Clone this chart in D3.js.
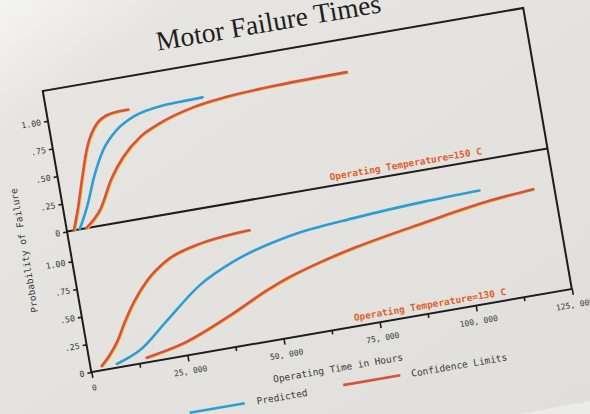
<!DOCTYPE html>
<html>
<head>
<meta charset="utf-8">
<script src="https://cdn.jsdelivr.net/npm/d3@7"></script>
<style>
  body { margin: 0; background: #e3e1dd; }
  svg { display: block; }
</style>
</head>
<body>
<svg id="chart" width="590" height="414"></svg>
<script>
// values: [operating hours, probability of failure]
var hourTicks = [0, 25000, 50000, 75000, 100000, 125000];
var hourTickLabels = ['0', '25, 000', '50, 000', '75, 000', '100, 000', '125, 000'];
var hourMinorTicks = [12500, 37500, 62500, 87500, 112500];
var probTicks = [0, .25, .5, .75, 1];
var probTickLabels = ['0', '.25', '.50', '.75', '1.00'];
var panelLabels = ['Operating Temperature=150 C', 'Operating Temperature=130 C'];
var legendLabels = ['Predicted', 'Confidence Limits'];

var predicted150 = [[3300, 0], [6200, .19], [9250, .44], [12700, .66], [17000, .816], [21800, .907], [29000, .958], [35100, .968], [40100, .972]];
var upper150 = [[1800, 0], [3900, .2], [6000, .43], [8900, .72], [12200, .9], [15100, .96], [17800, .975], [20800, .978]];
var lower150 = [[5000, 0], [9300, .14], [13600, .4], [17500, .57], [22600, .72], [28200, .81], [37400, .9], [46200, .94], [59400, .965], [77600, .975]];

var predicted130 = [[6800, .032], [13300, .119], [21300, .335], [31300, .6], [40800, .755], [56200, .895], [73800, .955], [91300, .99], [106000, 1.005]];
var upper130 = [[2900, .037], [5500, .125], [8000, .235], [10500, .38], [13600, .54], [18000, .715], [23900, .865], [33100, .962], [42000, .998], [46100, 1.005]];
var lower130 = [[14600, .042], [24500, .112], [38400, .3], [47900, .45], [54400, .535], [63000, .62], [72400, .695], [90400, .805], [108200, .9], [119600, .935]];

var W = 487.6, H = 285.2;
var red = '#d6523b', fringe = '#e9c24a', blue = '#2c9fd2', ink = '#1d1d1d', label = '#e0602c';
var mono = '"DejaVu Sans Mono", "Liberation Mono", monospace';

var svg = d3.select('#chart');

// paper
var grad = svg.append('defs').append('linearGradient')
    .attr('id', 'paper').attr('x1', 0).attr('y1', 0).attr('x2', 1).attr('y2', 1);
grad.append('stop').attr('offset', 0).attr('stop-color', '#f4f4f2');
grad.append('stop').attr('offset', .16).attr('stop-color', '#e7e5e1');
grad.append('stop').attr('offset', 1).attr('stop-color', '#e1dfdb');
svg.append('rect').attr('width', 590).attr('height', 414).attr('fill', 'url(#paper)');
svg.append('polygon').attr('points', '520,414 590,401 590,414').attr('fill', '#ebebe9');

// the print is photographed at an angle, so the whole chart is turned
var g = svg.append('g').attr('transform', 'translate(42.75,91) rotate(-9.8)');

var x = d3.scaleLinear().domain([0, 125000]).range([0, W]);
var yTop = d3.scaleLinear().domain([0, 1.27]).range([H / 2, 0]);
var yBot = d3.scaleLinear().domain([0, 1.27]).range([H, H / 2]);

// title
g.append('text')
    .attr('x', 234).attr('y', -20)
    .attr('text-anchor', 'middle')
    .attr('font-family', '"Liberation Serif", "Times New Roman", serif')
    .attr('font-size', 27.5)
    .attr('fill', '#202020')
    .text('Motor Failure Times');

function styleAxis(sel, size) {
    sel.select('.domain').remove();
    sel.selectAll('line').attr('stroke', ink).attr('stroke-width', 1.6);
    sel.selectAll('text').attr('font-family', mono).attr('font-size', size).attr('fill', '#3a3a3a');
}

[yTop, yBot].forEach(function(scl) {
    g.append('g')
        .call(d3.axisLeft(scl).tickValues(probTicks).tickSize(4).tickPadding(3)
            .tickFormat(function(d) { return probTickLabels[probTicks.indexOf(d)]; }))
        .call(styleAxis, 8.3);
});

g.append('g')
    .attr('transform', `translate(0,${H})`)
    .call(d3.axisBottom(x).tickValues(hourMinorTicks).tickSize(4).tickFormat(''))
    .call(styleAxis, 8);
g.append('g')
    .attr('transform', `translate(0,${H})`)
    .call(d3.axisBottom(x).tickValues(hourTicks).tickSize(6).tickPadding(7)
        .tickFormat(function(d) { return hourTickLabels[hourTicks.indexOf(d)]; }))
    .call(styleAxis, 8);

// frame and panel divider
g.append('rect').attr('width', W).attr('height', H)
    .attr('fill', 'none').attr('stroke', ink).attr('stroke-width', 2);
g.append('line').attr('x1', 0).attr('x2', W).attr('y1', H / 2).attr('y2', H / 2)
    .attr('stroke', ink).attr('stroke-width', 2);

// curves
var series = [
    { data: upper150, y: yTop, color: red },
    { data: lower150, y: yTop, color: red },
    { data: predicted150, y: yTop, color: blue },
    { data: upper130, y: yBot, color: red },
    { data: lower130, y: yBot, color: red },
    { data: predicted130, y: yBot, color: blue }
];
series.forEach(function(s) {
    var line = d3.line()
        .x(function(d) { return x(d[0]); })
        .y(function(d) { return s.y(d[1]); })
        .curve(d3.curveMonotoneX);
    if (s.color == red) {
        g.append('path').attr('d', line(s.data))
            .attr('transform', 'translate(0.9,0.9)')
            .attr('fill', 'none').attr('stroke', fringe).attr('stroke-width', 2.2).attr('stroke-linecap', 'round');
    }
    g.append('path').attr('d', line(s.data))
        .attr('fill', 'none').attr('stroke', s.color).attr('stroke-width', 2.6).attr('stroke-linecap', 'round');
});

// panel labels
panelLabels.forEach(function(t, i) {
    g.append('text')
        .attr('x', 268).attr('y', (i + 1) * H / 2 - 5.5)
        .attr('font-family', mono).attr('font-size', 9.5).attr('font-weight', 'bold')
        .attr('fill', label)
        .text(t);
});

// axis titles
g.append('text')
    .attr('transform', 'translate(-42,154) rotate(-90)')
    .attr('text-anchor', 'middle')
    .attr('font-family', mono).attr('font-size', 9.5).attr('fill', '#3a3a3a')
    .text('Probability of Failure');
g.append('text')
    .attr('x', W / 2).attr('y', H + 41.5)
    .attr('text-anchor', 'middle')
    .attr('font-family', mono).attr('font-size', 9.5).attr('fill', '#3a3a3a')
    .text('Operating Time in Hours');

// legend
var legend = [
    { color: blue, x1: 90, x2: 146, y: 342, tx: 158 },
    { color: red, x1: 246, x2: 304, y: 341, tx: 315 }
];
legend.forEach(function(l, i) {
    g.append('line').attr('x1', l.x1).attr('x2', l.x2).attr('y1', l.y).attr('y2', l.y)
        .attr('stroke', l.color).attr('stroke-width', 2.6);
    g.append('text')
        .attr('x', l.tx).attr('y', l.y + 3.5)
        .attr('font-family', mono).attr('font-size', 9.5).attr('fill', '#3a3a3a')
        .text(legendLabels[i]);
});
</script>
</body>
</html>
